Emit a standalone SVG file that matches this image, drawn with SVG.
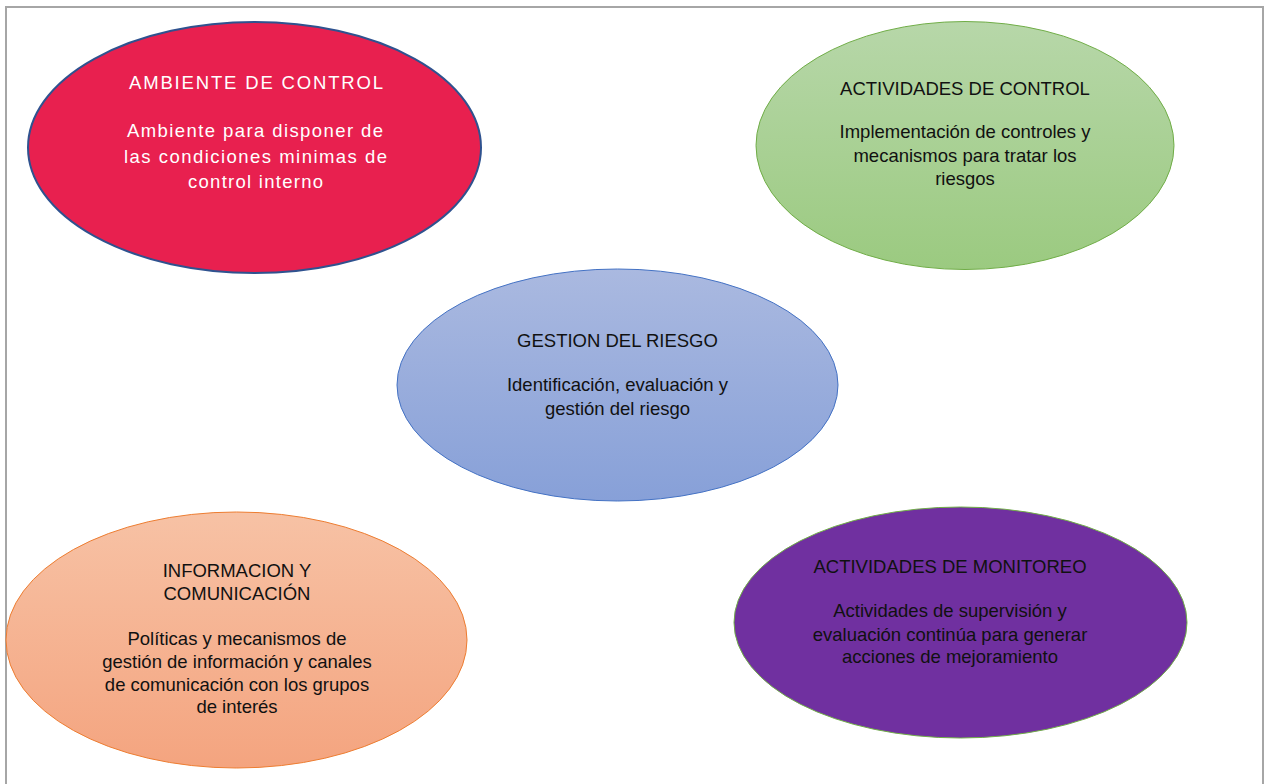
<svg xmlns="http://www.w3.org/2000/svg" width="1265" height="784" viewBox="0 0 1265 784">
<style>
text{font-family:"Liberation Sans",Arial,sans-serif;font-size:18.5px;text-anchor:middle}
.w{fill:#ffffff}
.k{fill:#111111}
</style>
<defs>
<linearGradient id="gGreen" x1="0" y1="0" x2="0" y2="1"><stop offset="0" stop-color="#B7D7A9"/><stop offset="1" stop-color="#9BCA80"/></linearGradient>
<linearGradient id="gBlue" x1="0" y1="0" x2="0" y2="1"><stop offset="0" stop-color="#AAB9E0"/><stop offset="1" stop-color="#87A0D8"/></linearGradient>
<linearGradient id="gOrange" x1="0" y1="0" x2="0" y2="1"><stop offset="0" stop-color="#F7C2A5"/><stop offset="1" stop-color="#F4A47F"/></linearGradient>
</defs>
<rect width="1265" height="784" fill="#ffffff"/>
<rect x="6" y="7" width="1257" height="800" fill="none" stroke="#A6A6A6" stroke-width="2"/>
<g id="ambiente">
<ellipse cx="254.5" cy="147.5" rx="226.5" ry="125.5" fill="#E8204F" stroke="#2F528F" stroke-width="2"/>
<text class="w" x="256" y="89" textLength="254" lengthAdjust="spacing">AMBIENTE DE CONTROL</text>
<text class="w" x="255" y="137" textLength="256" lengthAdjust="spacing">Ambiente para disponer de</text>
<text class="w" x="255.5" y="163" textLength="263" lengthAdjust="spacing">las condiciones minimas de</text>
<text class="w" x="255.5" y="188" textLength="135" lengthAdjust="spacing">control interno</text>
</g>
<g id="actividades-control">
<ellipse cx="965" cy="145.5" rx="209" ry="124" fill="url(#gGreen)" stroke="#70AD47" stroke-width="1"/>
<text class="k" x="965" y="95">ACTIVIDADES DE CONTROL</text>
<text class="k" x="965" y="138">Implementación de controles y</text>
<text class="k" x="965" y="162">mecanismos para tratar los</text>
<text class="k" x="965" y="185">riesgos</text>
</g>
<g id="gestion-riesgo">
<ellipse cx="617.5" cy="385" rx="220.5" ry="116" fill="url(#gBlue)" stroke="#4472C4" stroke-width="1"/>
<text class="k" x="617.5" y="347">GESTION DEL RIESGO</text>
<text class="k" x="617.5" y="391">Identificación, evaluación y</text>
<text class="k" x="617.5" y="415">gestión del riesgo</text>
</g>
<g id="informacion">
<ellipse cx="236.5" cy="640" rx="230.5" ry="128" fill="url(#gOrange)" stroke="#ED7D31" stroke-width="1"/>
<text class="k" x="237" y="577">INFORMACION Y</text>
<text class="k" x="237" y="600">COMUNICACIÓN</text>
<text class="k" x="237" y="645">Políticas y mecanismos de</text>
<text class="k" x="237" y="668">gestión de información y canales</text>
<text class="k" x="237" y="691">de comunicación con los grupos</text>
<text class="k" x="237" y="713">de interés</text>
</g>
<g id="monitoreo">
<ellipse cx="960.5" cy="622.5" rx="226.5" ry="115.5" fill="#7030A0" stroke="#70AD47" stroke-width="1"/>
<text class="k" x="950" y="573">ACTIVIDADES DE MONITOREO</text>
<text class="k" x="950" y="617">Actividades de supervisión y</text>
<text class="k" x="950" y="641">evaluación continúa para generar</text>
<text class="k" x="950" y="663">acciones de mejoramiento</text>
</g>
<g id="connectors"/>
</svg>
